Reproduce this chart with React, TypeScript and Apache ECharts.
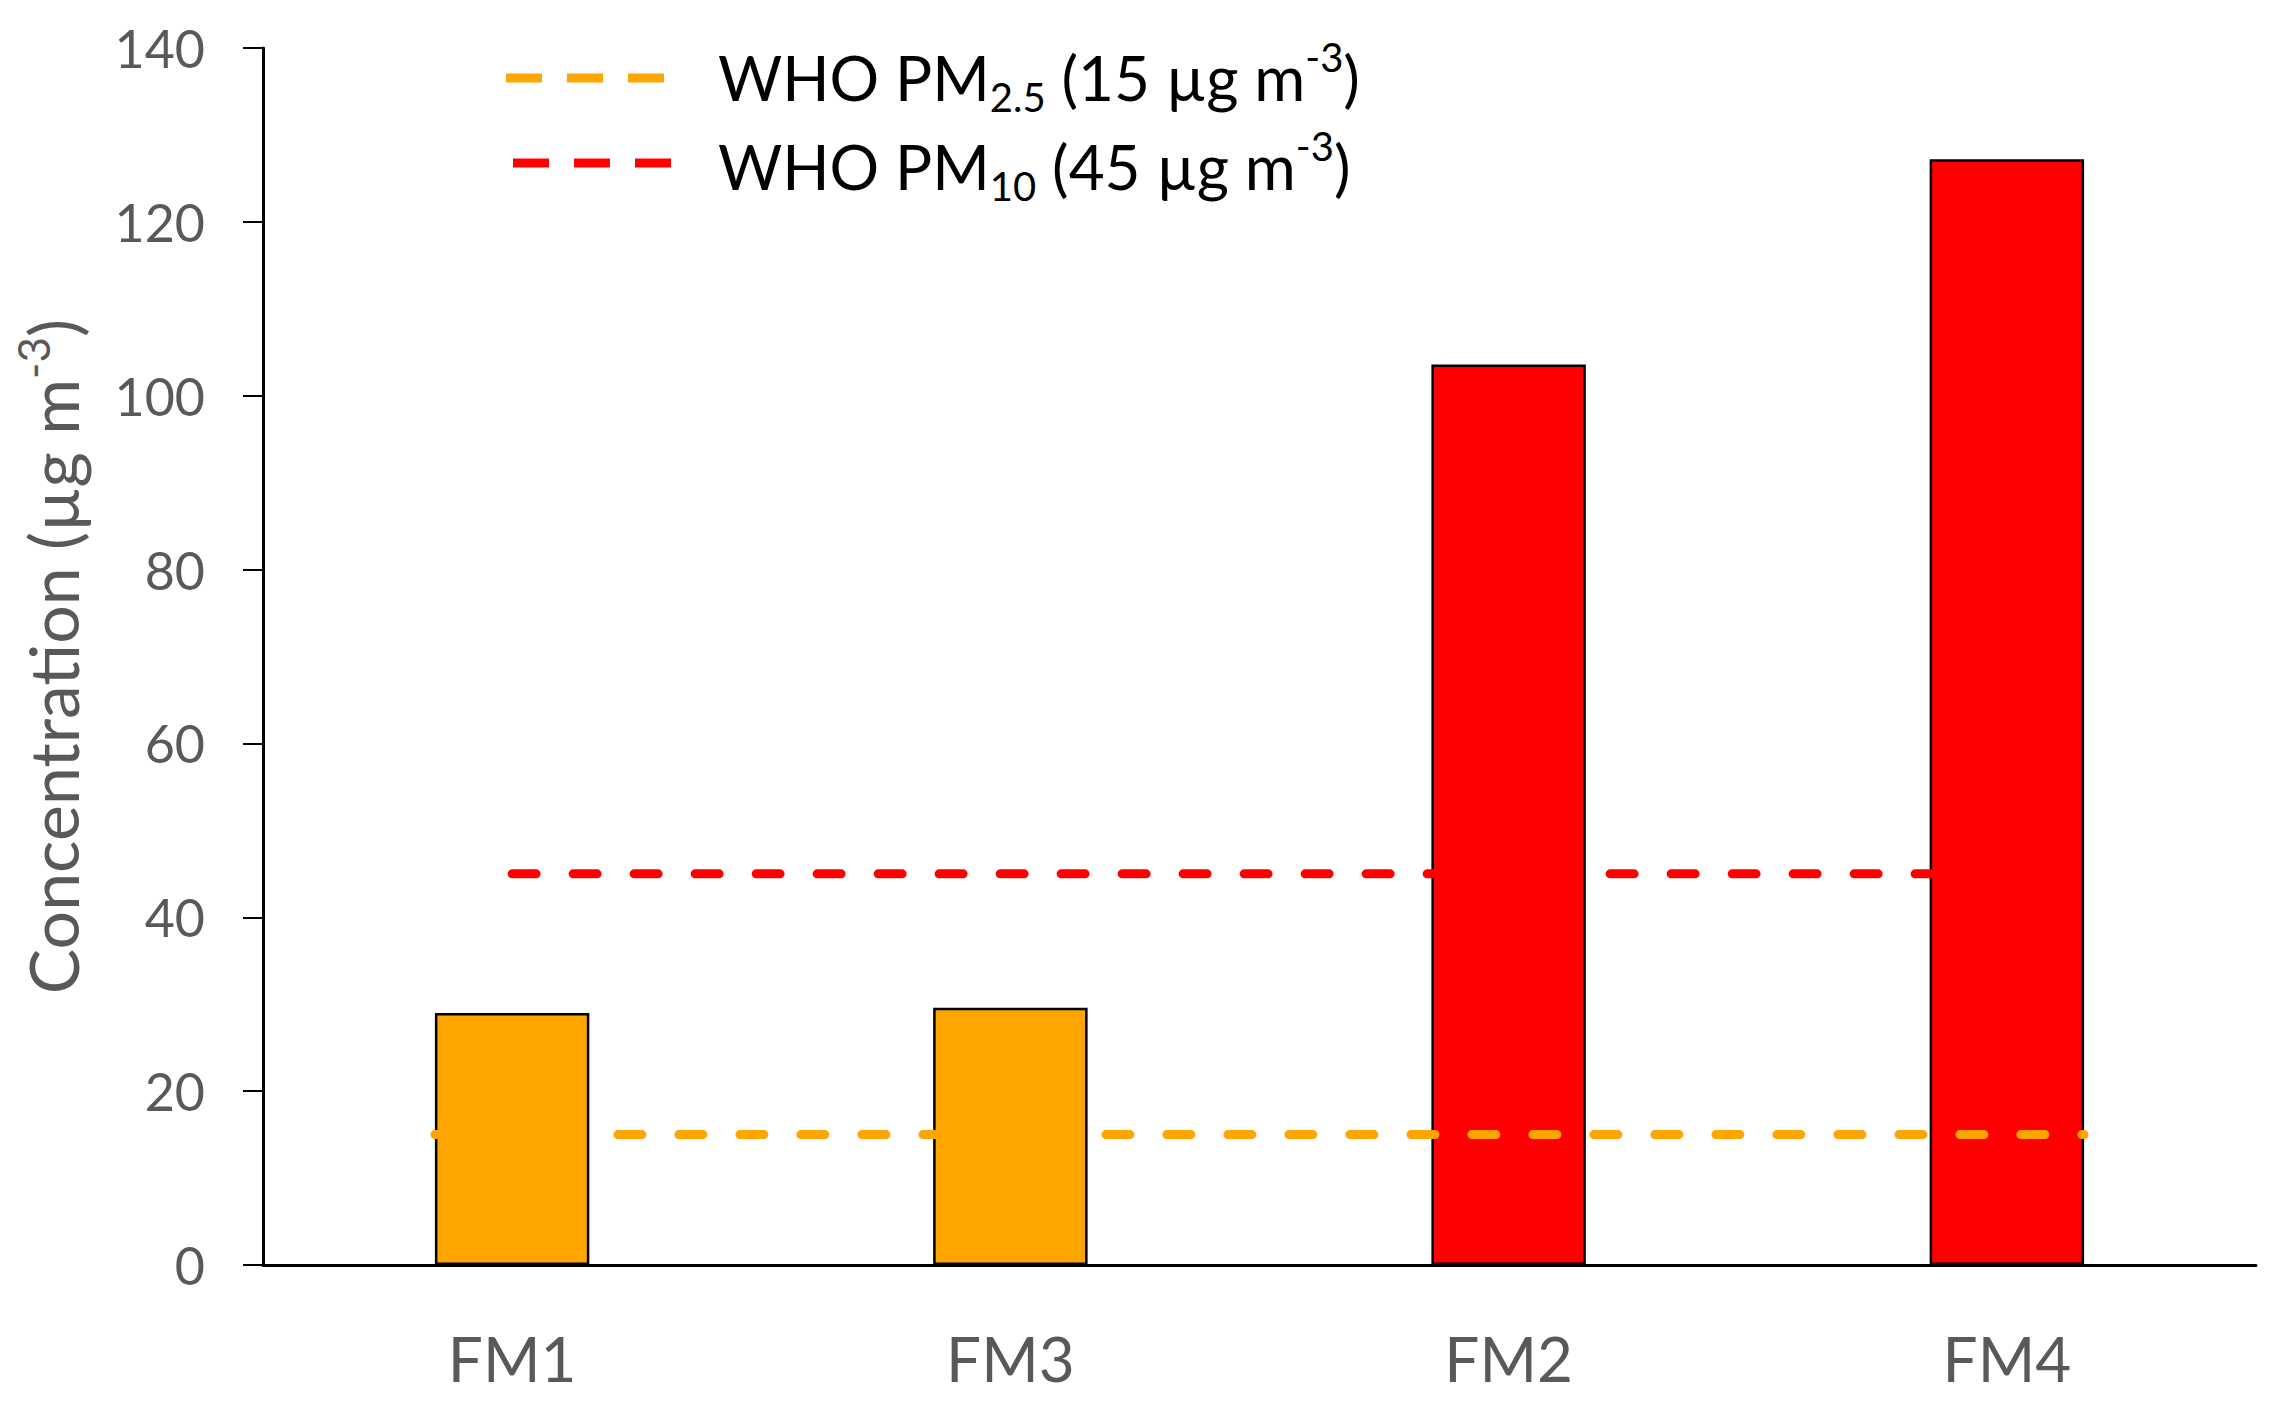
import React, { useEffect, useRef } from "react";
import * as echarts from "echarts";

const categories = ["FM1", "FM3", "FM2", "FM4"];
const concentrations = [29.0, 29.6, 103.6, 127.2];
const fractions = ["PM2.5", "PM2.5", "PM10", "PM10"];
const yTicks = { min: 0, max: 140, interval: 20 };
const whoPM25 = 15;
const whoPM10 = 45;

const ORANGE = "#FFA500";
const RED = "#FF0000";
const GRAY = "#595959";
const FONT = "Lato, 'Open Sans', sans-serif";
const BAR_FRAC = 0.31;

export default function App() {
  const ref = useRef<HTMLDivElement>(null);
  useEffect(() => {
    if (!ref.current) return;
    const chart = echarts.init(ref.current, null, { renderer: "svg" });
    const colorOf = (f: string) => (f === "PM2.5" ? ORANGE : RED);
    const last = categories.length - 1;
    const richMain = {
      main: { fontSize: 62, lineHeight: 80, color: "#000", fontFamily: FONT },
      sub: { fontSize: 40, lineHeight: 40, verticalAlign: "bottom", color: "#000", fontFamily: FONT },
      sup: { fontSize: 40, lineHeight: 54, verticalAlign: "top", color: "#000", fontFamily: FONT },
    };
    chart.setOption({
      animation: false,
      backgroundColor: "#fff",
      grid: { left: 263, right: 19, top: 48, bottom: 142, containLabel: false, outerBoundsMode: "none" },
      xAxis: [
        {
          type: "category",
          data: categories,
          axisLine: { lineStyle: { color: "#000", width: 3 } },
          axisTick: { show: false },
          axisLabel: { color: GRAY, fontSize: 62, fontFamily: FONT, margin: 62 },
        },
        {
          type: "value",
          min: -0.5,
          max: last + 0.5,
          show: false,
          position: "bottom",
        },
      ],
      yAxis: {
        type: "value",
        min: yTicks.min,
        max: yTicks.max,
        interval: yTicks.interval,
        splitLine: { show: false },
        axisLine: { show: true, onZero: false, lineStyle: { color: "#000", width: 3 } },
        axisTick: { show: true, length: 20, lineStyle: { color: "#000", width: 2 } },
        axisLabel: { color: GRAY, fontSize: 52, fontFamily: FONT, margin: 58 },
        name: "{t|Concentration (µg m}{s|-3}{t|)}",
        nameLocation: "middle",
        nameGap: 170,
        nameTextStyle: {
          rich: {
            t: { fontSize: 68, lineHeight: 82, color: GRAY, fontFamily: FONT },
            s: { fontSize: 44, lineHeight: 58, verticalAlign: "top", color: GRAY, fontFamily: FONT },
          },
        },
      },
      series: [
        {
          type: "bar",
          barWidth: BAR_FRAC * 100 + "%",
          data: concentrations.map((v, i) => ({
            value: v,
            itemStyle: { color: colorOf(fractions[i]), borderColor: "#000", borderWidth: 2.5 },
          })),
          z: 2,
        },
        {
          type: "line",
          name: "WHO PM10",
          data: categories.map(() => whoPM10),
          symbol: "none",
          lineStyle: { color: RED, width: 9, type: [24, 37], cap: "round" },
          z: 3,
        },
        {
          type: "line",
          name: "WHO PM2.5",
          xAxisIndex: 1,
          data: [
            [0 - BAR_FRAC / 2, whoPM25],
            [last + BAR_FRAC / 2, whoPM25],
          ],
          symbol: "none",
          lineStyle: { color: ORANGE, width: 9, type: [24, 37], cap: "round" },
          z: 4,
        },
      ],
      graphic: [
        {
          type: "line",
          shape: { x1: 506, y1: 78, x2: 665, y2: 78 },
          style: { stroke: ORANGE, lineWidth: 9, lineDash: [36, 25] },
        },
        {
          type: "line",
          shape: { x1: 513, y1: 163, x2: 672, y2: 163 },
          style: { stroke: RED, lineWidth: 9, lineDash: [36, 25] },
        },
        {
          type: "text",
          x: 718,
          y: 77,
          style: {
            text: "{main|WHO PM}{sub|2.5}{main| (15 µg m}{sup|-3}{main|)}",
            rich: richMain,
            verticalAlign: "middle",
            align: "left",
          },
        },
        {
          type: "text",
          x: 718,
          y: 166,
          style: {
            text: "{main|WHO PM}{sub|10}{main| (45 µg m}{sup|-3}{main|)}",
            rich: richMain,
            verticalAlign: "middle",
            align: "left",
          },
        },
      ],
    });
    return () => chart.dispose();
  }, []);
  return (
    <div
      ref={ref}
      style={{ position: "fixed", left: 0, top: 0, width: 2275, height: 1407, background: "#fff" }}
    />
  );
}
